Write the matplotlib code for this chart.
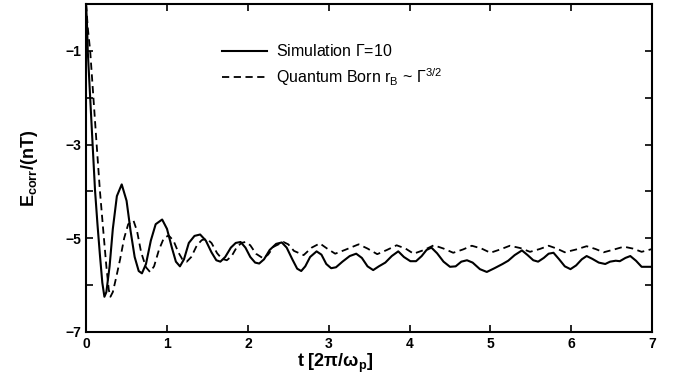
import numpy as np
import matplotlib
matplotlib.use("Agg")
import matplotlib.pyplot as plt

plt.rcParams['font.family'] = ['Liberation Sans', 'DejaVu Sans']
plt.rcParams['mathtext.fontset'] = 'custom'
plt.rcParams['mathtext.rm'] = 'Liberation Sans'
plt.rcParams['mathtext.it'] = 'Liberation Sans'
plt.rcParams['mathtext.bf'] = 'Liberation Sans:bold'

# simulation Gamma=10 (solid)
t_sim = [0.00, 0.01, 0.02, 0.05, 0.08, 0.11, 0.14, 0.17, 0.20, 0.226, 0.25, 0.29, 0.33, 0.38,
         0.44, 0.50, 0.55, 0.60, 0.65, 0.69, 0.74, 0.80, 0.86, 0.94, 1.00, 1.06, 1.11, 1.16,
         1.21, 1.27, 1.34, 1.41, 1.48, 1.55, 1.61, 1.66, 1.72, 1.79, 1.85, 1.91, 1.97, 2.03,
         2.09, 2.14, 2.20, 2.27, 2.35, 2.42, 2.48, 2.55, 2.61, 2.66, 2.71, 2.77, 2.85, 2.91,
         2.97, 3.03, 3.09, 3.17, 3.26, 3.34, 3.41, 3.48, 3.55, 3.62, 3.70, 3.78, 3.86, 3.93,
         4.01, 4.08, 4.15, 4.21, 4.27, 4.34, 4.42, 4.50, 4.57, 4.64, 4.71, 4.78, 4.87, 4.955,
         5.05, 5.15, 5.22, 5.30, 5.39, 5.46, 5.53, 5.59, 5.66, 5.72, 5.78, 5.85, 5.92, 5.99,
         6.06, 6.13, 6.19, 6.26, 6.34, 6.42, 6.48, 6.55, 6.60, 6.67, 6.73, 6.80, 6.87, 7.00]
e_sim = [-0.05, -0.4, -1.0, -2.0, -3.0, -3.98, -4.7, -5.35, -5.95, -6.25, -6.15, -5.6, -4.8, -4.1,
         -3.85, -4.2, -4.85, -5.4, -5.7, -5.75, -5.55, -5.05, -4.7, -4.60, -4.8, -5.2, -5.5, -5.60,
         -5.45, -5.1, -4.95, -4.92, -5.05, -5.3, -5.47, -5.50, -5.4, -5.2, -5.1, -5.08, -5.2, -5.4,
         -5.52, -5.54, -5.45, -5.25, -5.12, -5.09, -5.2, -5.45, -5.65, -5.70, -5.6, -5.4, -5.28, -5.35,
         -5.55, -5.64, -5.62, -5.5, -5.38, -5.33, -5.42, -5.6, -5.68, -5.6, -5.52, -5.38, -5.28, -5.4,
         -5.49, -5.49, -5.38, -5.25, -5.20, -5.32, -5.5, -5.61, -5.6, -5.5, -5.47, -5.52, -5.66, -5.72,
         -5.64, -5.55, -5.48, -5.36, -5.26, -5.36, -5.47, -5.50, -5.42, -5.33, -5.31, -5.45, -5.6, -5.66,
         -5.58, -5.45, -5.38, -5.44, -5.52, -5.55, -5.50, -5.48, -5.49, -5.42, -5.38, -5.48, -5.61, -5.61]

# quantum Born (dashed)
t_qb = [0.00, 0.02, 0.05, 0.09, 0.13, 0.17, 0.21, 0.25, 0.28, 0.30, 0.33, 0.37, 0.42, 0.47,
        0.52, 0.585, 0.63, 0.68, 0.74, 0.79, 0.84, 0.90, 0.96, 1.02, 1.08, 1.14, 1.19, 1.245,
        1.30, 1.37, 1.43, 1.49, 1.55, 1.62, 1.68, 1.74, 1.80, 1.86, 1.92, 1.97, 2.03, 2.10,
        2.19, 2.25, 2.32, 2.44, 2.50, 2.57, 2.69, 2.79, 2.89, 2.98, 3.08, 3.20, 3.37, 3.48,
        3.60, 3.72, 3.84, 3.95, 4.05, 4.18, 4.30, 4.42, 4.54, 4.66, 4.77, 4.89, 5.00, 5.12,
        5.24, 5.37, 5.49, 5.61, 5.72, 5.82, 5.92, 6.06, 6.19, 6.30, 6.40, 6.53, 6.65, 6.76,
        6.87, 7.00]
e_qb = [0.0, -0.5, -1.0, -2.0, -3.0, -3.98, -4.8, -5.6, -6.1, -6.25, -6.15, -5.85, -5.45, -5.0,
        -4.7, -4.62, -4.85, -5.3, -5.62, -5.72, -5.6, -5.25, -5.0, -4.94, -5.05, -5.3, -5.45, -5.50,
        -5.4, -5.15, -5.04, -5.01, -5.1, -5.32, -5.44, -5.47, -5.38, -5.2, -5.1, -5.08, -5.15, -5.33,
        -5.43, -5.35, -5.18, -5.08, -5.13, -5.27, -5.36, -5.2, -5.11, -5.22, -5.33, -5.25, -5.13, -5.22,
        -5.34, -5.25, -5.15, -5.22, -5.33, -5.25, -5.15, -5.22, -5.31, -5.24, -5.16, -5.22, -5.31, -5.24,
        -5.16, -5.21, -5.29, -5.23, -5.16, -5.22, -5.30, -5.24, -5.17, -5.23, -5.30, -5.24, -5.18, -5.22,
        -5.29, -5.23]

yticks = list(range(-7, 1))
ytick_labels = ['\u22127', '', '\u22125', '', '\u22123', '', '\u22121', '']

fig = plt.figure(figsize=(6.73, 3.78), dpi=100)
ax = fig.add_axes([0.128, 0.122, 0.841, 0.867])

ax.plot(t_sim, e_sim, color='black', lw=1.5, label=r'Simulation $\Gamma$=10')
ax.plot(t_qb, e_qb, color='black', lw=1.3, dashes=(4, 2.5),
        label=r'Quantum Born r$_{\rm B}$ ~ $\Gamma^{3/2}$')

ax.set_xlim(0, 7)
ax.set_ylim(-7, 0)
ax.set_xticks(range(0, 8))
ax.set_yticks(yticks)
ax.set_yticklabels(ytick_labels)
ax.tick_params(direction='in', top=True, right=True, length=5, width=1.2, labelsize=10)
for lab in ax.get_xticklabels() + ax.get_yticklabels():
    lab.set_fontweight('bold')
for s in ax.spines.values():
    s.set_linewidth(1.5)

ax.set_xlabel(r'$\mathbf{t\ [2\pi/\omega_p]}$', fontsize=13)
ax.xaxis.set_label_coords(0.44, -0.06)
ax.set_ylabel(r'$\mathbf{E_{corr}/(nT)}$', fontsize=13, labelpad=18)

ax.legend(loc='upper left', bbox_to_anchor=(0.215, 0.925), frameon=False,
          handlelength=2.8, handletextpad=0.55, fontsize=11.5, labelspacing=0.45)

fig.savefig('out.png', dpi=100)
